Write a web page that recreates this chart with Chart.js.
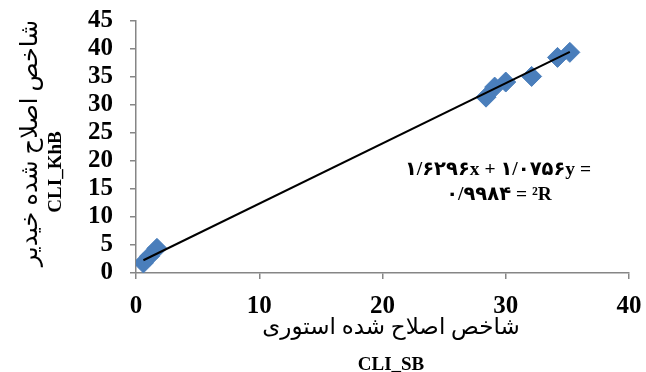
<!DOCTYPE html>
<html>
<head>
<meta charset="utf-8">
<script src="https://cdn.jsdelivr.net/npm/chart.js@4"></script>
<style>
html,body{margin:0;padding:0;background:#fff;}
#wrap{width:646px;height:372px;position:relative;}
</style>
</head>
<body>
<div id="wrap"><canvas id="c" width="646" height="372"></canvas></div>
<script>
// ---- data ----
const xValues = [0.6, 1.1, 1.7, 28.4, 29.1, 30.0, 32.1, 34.2, 35.2];
const yValues = [1.8, 3.0, 4.4, 31.4, 33.2, 34.1, 35.1, 38.5, 39.4];
const trendSlope = 1.0756;
const trendIntercept = 1.6296;
const xTicks = [0, 10, 20, 30, 40];
const yTicks = [0, 5, 10, 15, 20, 25, 30, 35, 40, 45];
const xTitleFa = 'شاخص اصلاح شده استوری';
const xTitleEn = 'CLI_SB';
const yTitleFa = 'شاخص اصلاح شده خیدیر';
const yTitleEn = 'CLI_KhB';
const eqLine1 = '۱/۶۲۹۶x + ۱/۰۷۵۶y =';
const eqLine2 = '۰/۹۹۸۴ = ²R';

const points = xValues.map((x, i) => ({x: x, y: yValues[i]}));
const xMin = Math.min(...xValues), xMax = Math.max(...xValues);
const trend = [xMin, xMax].map(x => ({x: x, y: trendSlope * x + trendIntercept}));

const axisColor = '#868686';
const tickFont = {family: '"Liberation Serif", "Times New Roman", serif', size: 25, weight: 'bold'};

const textPlugin = {
  id: 'texts',
  afterDraw(chart) {
    const ctx = chart.ctx;
    ctx.save();
    ctx.fillStyle = '#000';
    ctx.textAlign = 'center';
    ctx.textBaseline = 'middle';
    // x titles
    ctx.font = '23px "Liberation Serif", "DejaVu Sans", sans-serif';
    ctx.fillText(xTitleFa, 391, 328);
    ctx.font = 'bold 19px "Liberation Serif", serif';
    ctx.fillText(xTitleEn, 391, 365);
    // y titles
    ctx.save();
    ctx.translate(31, 143);
    ctx.rotate(-Math.PI / 2);
    ctx.font = '24px "Liberation Serif", "DejaVu Sans", sans-serif';
    ctx.fillText(yTitleFa, 0, 0);
    ctx.restore();
    ctx.save();
    ctx.translate(56, 172);
    ctx.rotate(-Math.PI / 2);
    ctx.font = 'bold 19px "Liberation Serif", serif';
    ctx.fillText(yTitleEn, 0, 0);
    ctx.restore();
    // equation
    ctx.font = 'bold 19.5px "Liberation Serif", "DejaVu Sans", serif';
    ctx.direction = 'ltr';
    ctx.fillText(eqLine1, 498, 170);
    ctx.fillText(eqLine2, 499, 195);
    ctx.restore();
  }
};

function zeroPad(scale) {
  scale.paddingTop = 0; scale.paddingBottom = 0;
  scale.paddingLeft = 0; scale.paddingRight = 0;
}

new Chart(document.getElementById('c'), {
  type: 'scatter',
  data: {
    datasets: [
      {
        type: 'line',
        data: trend,
        borderColor: '#000',
        borderWidth: 2,
        pointRadius: 0,
        fill: false,
        order: 0
      },
      {
        data: points,
        pointStyle: 'rectRot',
        pointRadius: 10,
        pointBackgroundColor: '#4a7ebb',
        pointBorderColor: '#4a7ebb',
        pointBorderWidth: 1,
        order: 1
      }
    ]
  },
  plugins: [textPlugin],
  options: {
    responsive: false,
    animation: false,
    events: [],
    layout: {padding: {left: 0, top: 21, right: 17, bottom: 0}},
    plugins: {legend: {display: false}, tooltip: {enabled: false}},
    scales: {
      x: {
        type: 'linear',
        min: 0, max: 40,
        afterBuildTicks(scale) { scale.ticks = xTicks.map(v => ({value: v})); },
        afterFit(scale) { scale.height = 99; zeroPad(scale); },
        grid: {display: true, drawOnChartArea: false, drawTicks: true, tickLength: 6, color: axisColor, lineWidth: 1.5},
        border: {color: axisColor, width: 1.5},
        ticks: {font: tickFont, color: '#000', padding: 13, maxRotation: 0, autoSkip: false}
      },
      y: {
        type: 'linear',
        min: 0, max: 45,
        afterBuildTicks(scale) { scale.ticks = yTicks.map(v => ({value: v})); },
        afterFit(scale) { scale.width = 136; zeroPad(scale); },
        grid: {display: true, drawOnChartArea: false, drawTicks: true, tickLength: 6, color: axisColor, lineWidth: 1.5},
        border: {color: axisColor, width: 1.5},
        ticks: {font: tickFont, color: '#000', padding: 17, autoSkip: false}
      }
    }
  }
});
</script>
</body>
</html>
